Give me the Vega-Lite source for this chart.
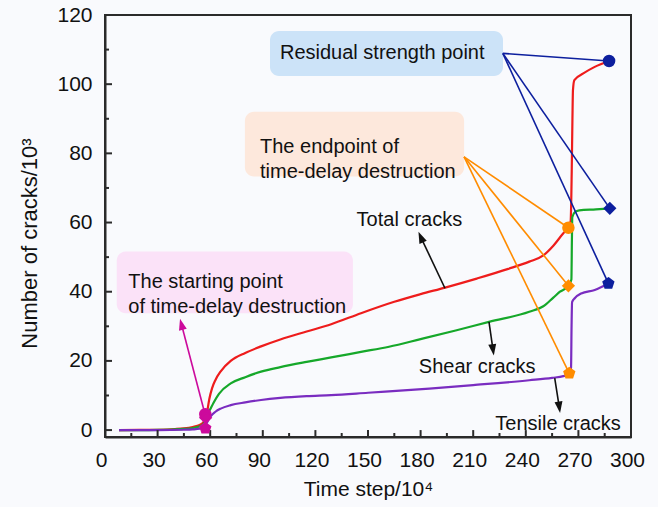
{
  "$schema": "https://vega.github.io/schema/vega-lite/v6.json",
  "width": 526,
  "height": 422,
  "autosize": {"type": "none"},
  "padding": {"left": 105, "top": 15, "right": 27, "bottom": 70},
  "background": "#f9fafd",
  "config": {
    "view": {"stroke": "#2b2b2b", "strokeWidth": 2, "fill": null},
    "font": "Liberation Sans",
    "text": {"font": "Liberation Sans"}
  },
  "datasets": {
    "curves": [
      {"s": "Total", "t": 8, "v": 0}, {"s": "Total", "t": 20, "v": 0.05}, {"s": "Total", "t": 30, "v": 0.1}, {"s": "Total", "t": 40, "v": 0.3}, {"s": "Total", "t": 45, "v": 0.5}, {"s": "Total", "t": 50, "v": 0.9}, {"s": "Total", "t": 54, "v": 1.5}, {"s": "Total", "t": 56, "v": 2.2}, {"s": "Total", "t": 57.5, "v": 3.5}, {"s": "Total", "t": 58.5, "v": 6}, {"s": "Total", "t": 59.5, "v": 9}, {"s": "Total", "t": 61, "v": 12}, {"s": "Total", "t": 63, "v": 14.5}, {"s": "Total", "t": 66, "v": 17}, {"s": "Total", "t": 71.7, "v": 20}, {"s": "Total", "t": 80, "v": 22.3}, {"s": "Total", "t": 89, "v": 24.2}, {"s": "Total", "t": 100, "v": 26.2}, {"s": "Total", "t": 115, "v": 28.5}, {"s": "Total", "t": 129, "v": 30.6}, {"s": "Total", "t": 146, "v": 33.8}, {"s": "Total", "t": 165, "v": 37.1}, {"s": "Total", "t": 180, "v": 39.3}, {"s": "Total", "t": 194, "v": 41.2}, {"s": "Total", "t": 212, "v": 43.8}, {"s": "Total", "t": 230, "v": 46.6}, {"s": "Total", "t": 242, "v": 48.7}, {"s": "Total", "t": 250, "v": 50.5}, {"s": "Total", "t": 255.7, "v": 53.3}, {"s": "Total", "t": 261.4, "v": 56.9}, {"s": "Total", "t": 264.3, "v": 58.5}, {"s": "Total", "t": 265.6, "v": 60.5}, {"s": "Total", "t": 266.2, "v": 75}, {"s": "Total", "t": 266.6, "v": 90}, {"s": "Total", "t": 266.9, "v": 98.3}, {"s": "Total", "t": 267.7, "v": 101.2}, {"s": "Total", "t": 272.8, "v": 103.1}, {"s": "Total", "t": 279.3, "v": 105}, {"s": "Total", "t": 287.5, "v": 106.7},
      {"s": "Shear", "t": 8, "v": 0}, {"s": "Shear", "t": 20, "v": 0}, {"s": "Shear", "t": 30, "v": 0.05}, {"s": "Shear", "t": 40, "v": 0.2}, {"s": "Shear", "t": 45, "v": 0.35}, {"s": "Shear", "t": 50, "v": 0.6}, {"s": "Shear", "t": 54, "v": 1.1}, {"s": "Shear", "t": 56, "v": 1.7}, {"s": "Shear", "t": 57.5, "v": 3}, {"s": "Shear", "t": 58.5, "v": 4.5}, {"s": "Shear", "t": 60, "v": 6}, {"s": "Shear", "t": 62, "v": 8}, {"s": "Shear", "t": 65, "v": 10.5}, {"s": "Shear", "t": 71.7, "v": 13.5}, {"s": "Shear", "t": 80, "v": 15.3}, {"s": "Shear", "t": 89, "v": 16.9}, {"s": "Shear", "t": 100, "v": 18.2}, {"s": "Shear", "t": 115, "v": 19.7}, {"s": "Shear", "t": 129, "v": 21}, {"s": "Shear", "t": 146, "v": 22.6}, {"s": "Shear", "t": 162, "v": 24.1}, {"s": "Shear", "t": 180, "v": 26.3}, {"s": "Shear", "t": 200, "v": 28.8}, {"s": "Shear", "t": 219, "v": 31.3}, {"s": "Shear", "t": 242, "v": 34.2}, {"s": "Shear", "t": 250, "v": 35.8}, {"s": "Shear", "t": 255.7, "v": 38.3}, {"s": "Shear", "t": 259.5, "v": 40}, {"s": "Shear", "t": 264.3, "v": 41.7}, {"s": "Shear", "t": 266, "v": 43.5}, {"s": "Shear", "t": 266.3, "v": 55}, {"s": "Shear", "t": 266.5, "v": 61.5}, {"s": "Shear", "t": 268, "v": 63}, {"s": "Shear", "t": 270.5, "v": 63.5}, {"s": "Shear", "t": 280, "v": 63.8}, {"s": "Shear", "t": 287.9, "v": 64.1},
      {"s": "Tensile", "t": 8, "v": 0}, {"s": "Tensile", "t": 30, "v": 0}, {"s": "Tensile", "t": 45, "v": 0.1}, {"s": "Tensile", "t": 50, "v": 0.2}, {"s": "Tensile", "t": 54, "v": 0.4}, {"s": "Tensile", "t": 56, "v": 0.8}, {"s": "Tensile", "t": 57.5, "v": 1.5}, {"s": "Tensile", "t": 58.5, "v": 2.5}, {"s": "Tensile", "t": 60, "v": 3.8}, {"s": "Tensile", "t": 63, "v": 5.3}, {"s": "Tensile", "t": 66, "v": 6.2}, {"s": "Tensile", "t": 71.7, "v": 7.2}, {"s": "Tensile", "t": 80, "v": 8}, {"s": "Tensile", "t": 89, "v": 8.7}, {"s": "Tensile", "t": 100, "v": 9.3}, {"s": "Tensile", "t": 115, "v": 9.8}, {"s": "Tensile", "t": 129, "v": 10.1}, {"s": "Tensile", "t": 150, "v": 10.8}, {"s": "Tensile", "t": 185, "v": 12}, {"s": "Tensile", "t": 210, "v": 13}, {"s": "Tensile", "t": 242, "v": 14.4}, {"s": "Tensile", "t": 255, "v": 15.1}, {"s": "Tensile", "t": 261.4, "v": 15.6}, {"s": "Tensile", "t": 264.8, "v": 16.4}, {"s": "Tensile", "t": 265.8, "v": 18}, {"s": "Tensile", "t": 266.1, "v": 30}, {"s": "Tensile", "t": 266.4, "v": 37}, {"s": "Tensile", "t": 267.9, "v": 38.1}, {"s": "Tensile", "t": 271.6, "v": 39.5}, {"s": "Tensile", "t": 279.3, "v": 40.5}, {"s": "Tensile", "t": 287.1, "v": 42.4}
    ],
    "boxes": [
      {"g": "residual", "x1": 94.1, "x2": 227, "y1": 102.4, "y2": 115.4},
      {"g": "endpoint", "x1": 79.8, "x2": 204.8, "y1": 73.3, "y2": 92},
      {"g": "start", "x1": 6.7, "x2": 141.4, "y1": 33.8, "y2": 51.6}
    ],
    "boxText": [
      {"t": 99.8, "v": 108.9, "label": "Residual strength point"},
      {"t": 88.4, "v": 81.7, "label": "The endpoint of\ntime-delay destruction"},
      {"t": 13.3, "v": 42.9, "label": "The starting point\nof time-delay destruction"}
    ],
    "curveText": [
      {"t": 173.6, "v": 60.7, "label": "Total cracks"},
      {"t": 212.3, "v": 18.3, "label": "Shear cracks"},
      {"t": 258.4, "v": 1.7, "label": "Tensile cracks"}
    ],
    "leaders": [
      {"g": "residual", "seg": "r1", "t": 226.9, "v": 108.9}, {"g": "residual", "seg": "r1", "t": 287.5, "v": 106.7},
      {"g": "residual", "seg": "r2", "t": 226.9, "v": 108.9}, {"g": "residual", "seg": "r2", "t": 287.9, "v": 64.1},
      {"g": "residual", "seg": "r3", "t": 226.9, "v": 108.9}, {"g": "residual", "seg": "r3", "t": 287.1, "v": 42.4},
      {"g": "endpoint", "seg": "e1", "t": 204.8, "v": 79}, {"g": "endpoint", "seg": "e1", "t": 264.3, "v": 58.5},
      {"g": "endpoint", "seg": "e2", "t": 204.8, "v": 79}, {"g": "endpoint", "seg": "e2", "t": 264.3, "v": 41.7},
      {"g": "endpoint", "seg": "e3", "t": 204.8, "v": 79}, {"g": "endpoint", "seg": "e3", "t": 264.8, "v": 16.4},
      {"g": "start", "seg": "s1", "t": 57.2, "v": 4.3}, {"g": "start", "seg": "s1", "t": 43.6, "v": 30.6}
    ],
    "arrows": [
      {"seg": "a1", "t": 193.9, "v": 41}, {"seg": "a1", "t": 180.1, "v": 55.8},
      {"seg": "a2", "t": 219, "v": 31.3}, {"seg": "a2", "t": 221.3, "v": 23.2},
      {"seg": "a3", "t": 256.5, "v": 15}, {"seg": "a3", "t": 259.1, "v": 6.6}
    ],
    "markers": [
      {"g": "residual", "k": "Total", "t": 287.5, "v": 106.7},
      {"g": "residual", "k": "Shear", "t": 287.9, "v": 64.1},
      {"g": "residual", "k": "Tensile", "t": 287.1, "v": 42.4},
      {"g": "endpoint", "k": "Total", "t": 264.3, "v": 58.5},
      {"g": "endpoint", "k": "Shear", "t": 264.3, "v": 41.7},
      {"g": "endpoint", "k": "Tensile", "t": 264.8, "v": 16.4},
      {"g": "start", "k": "Total", "t": 57.2, "v": 4.6},
      {"g": "start", "k": "Shear", "t": 57.4, "v": 3.6},
      {"g": "start", "k": "Tensile", "t": 57.2, "v": 0.5}
    ],
    "headDown": [{"t": 221.3, "v": 23.2}, {"t": 259.1, "v": 6.6}],
    "headTotal": [{"t": 180.1, "v": 55.8}],
    "headStart": [{"t": 43.6, "v": 30.6}],
    "xMajor": [{"t": 30}, {"t": 60}, {"t": 90}, {"t": 120}, {"t": 150}, {"t": 180}, {"t": 210}, {"t": 240}, {"t": 270}],
    "xMinor": [{"t": 15}, {"t": 45}, {"t": 75}, {"t": 105}, {"t": 135}, {"t": 165}, {"t": 195}, {"t": 225}, {"t": 255}, {"t": 285}],
    "yMajor": [{"v": 0}, {"v": 20}, {"v": 40}, {"v": 60}, {"v": 80}, {"v": 100}],
    "yMinor": [{"v": 10}, {"v": 30}, {"v": 50}, {"v": 70}, {"v": 90}, {"v": 110}]
  },
  "layer": [
    {
      "data": {"name": "curves"},
      "mark": {"type": "line", "strokeWidth": 2.2, "interpolate": "monotone"},
      "encoding": {
        "x": {"field": "t", "type": "quantitative", "scale": {"domain": [0, 300], "nice": false, "zero": false},
          "axis": {"orient": "bottom", "values": [0, 30, 60, 90, 120, 150, 180, 210, 240, 270, 300], "ticks": false, "domain": true, "domainColor": "#2b2b2b", "domainWidth": 2, "grid": false, "labelFontSize": 21, "labelColor": "#111", "labelPadding": 12, "labelOffset": -4, "labelFlush": false, "labelOverlap": false, "labelFont": "Liberation Sans", "title": "Time step/10⁴", "titleFontSize": 21, "titleFontWeight": "normal", "titleColor": "#111", "titlePadding": 8, "titleFont": "Liberation Sans"}},
        "y": {"field": "v", "type": "quantitative", "scale": {"domain": [-2, 120], "nice": false, "zero": false},
          "axis": {"orient": "left", "values": [0, 20, 40, 60, 80, 100, 120], "ticks": false, "domain": true, "domainColor": "#2b2b2b", "domainWidth": 2, "grid": false, "labelFontSize": 21, "labelColor": "#111", "labelPadding": 13, "labelFlush": false, "labelOverlap": false, "labelFont": "Liberation Sans", "title": "Number of cracks/10³", "titleFontSize": 22, "titleFontWeight": "normal", "titleColor": "#111", "titlePadding": 15, "titleY": 228, "titleFont": "Liberation Sans"}},
        "color": {"field": "s", "type": "nominal", "scale": {"domain": ["Total", "Shear", "Tensile"], "range": ["#ee1c1c", "#16a82a", "#7a2cc0"]}, "legend": null},
        "detail": {"field": "s"}
      }
    },
    {
      "data": {"name": "boxes"},
      "mark": {"type": "rect", "cornerRadius": 9},
      "encoding": {
        "x": {"field": "x1", "type": "quantitative"},
        "x2": {"field": "x2"},
        "y": {"field": "y1", "type": "quantitative"},
        "y2": {"field": "y2"},
        "fill": {"field": "g", "type": "nominal", "scale": {"domain": ["residual", "endpoint", "start"], "range": ["#cce3f8", "#fde8dc", "#fbe2f8"]}, "legend": null}
      }
    },
    {
      "data": {"name": "xMajor"},
      "mark": {"type": "rule", "strokeWidth": 2, "color": "#2b2b2b"},
      "encoding": {
        "x": {"field": "t", "type": "quantitative"},
        "y": {"datum": -2, "type": "quantitative"},
        "y2": {"datum": 0}
      }
    },
    {
      "data": {"name": "xMinor"},
      "mark": {"type": "rule", "strokeWidth": 2, "color": "#2b2b2b"},
      "encoding": {
        "x": {"field": "t", "type": "quantitative"},
        "y": {"datum": -2, "type": "quantitative"},
        "y2": {"datum": -0.85}
      }
    },
    {
      "data": {"name": "yMajor"},
      "mark": {"type": "rule", "strokeWidth": 2, "color": "#2b2b2b"},
      "encoding": {
        "y": {"field": "v", "type": "quantitative"},
        "x": {"datum": 0, "type": "quantitative"},
        "x2": {"datum": 4}
      }
    },
    {
      "data": {"name": "yMinor"},
      "mark": {"type": "rule", "strokeWidth": 2, "color": "#2b2b2b"},
      "encoding": {
        "y": {"field": "v", "type": "quantitative"},
        "x": {"datum": 0, "type": "quantitative"},
        "x2": {"datum": 2.3}
      }
    },
    {
      "data": {"name": "leaders"},
      "mark": {"type": "line", "strokeWidth": 1.6},
      "encoding": {
        "x": {"field": "t", "type": "quantitative"},
        "y": {"field": "v", "type": "quantitative"},
        "stroke": {"field": "g", "type": "nominal", "scale": {"domain": ["residual", "endpoint", "start"], "range": ["#0d1f9e", "#ff8c00", "#cc0a9c"]}, "legend": null},
        "detail": {"field": "seg"}
      }
    },
    {
      "data": {"name": "arrows"},
      "mark": {"type": "line", "strokeWidth": 1.6, "color": "#111"},
      "encoding": {
        "x": {"field": "t", "type": "quantitative"},
        "y": {"field": "v", "type": "quantitative"},
        "detail": {"field": "seg"}
      }
    },
    {
      "data": {"name": "markers"},
      "mark": {"type": "point", "filled": true, "opacity": 1, "size": 110},
      "encoding": {
        "x": {"field": "t", "type": "quantitative"},
        "y": {"field": "v", "type": "quantitative"},
        "stroke": {"field": "g", "type": "nominal", "scale": {"domain": ["residual", "endpoint", "start"], "range": ["#0d1f9e", "#ff8c00", "#cc0a9c"]}, "legend": null},
        "fill": {"field": "g", "type": "nominal", "scale": {"domain": ["residual", "endpoint", "start"], "range": ["#0d1f9e", "#ff8c00", "#cc0a9c"]}, "legend": null},
        "shape": {"field": "k", "type": "nominal", "scale": {"domain": ["Total", "Shear", "Tensile"], "range": ["circle", "diamond", "M0,-1L0.951,-0.309L0.588,0.809L-0.588,0.809L-0.951,-0.309Z"]}, "legend": null}
      }
    },
    {
      "data": {"name": "headDown"},
      "mark": {"type": "point", "filled": true, "opacity": 1, "color": "#111", "size": 130, "angle": 172, "shape": "M0,-1L0.7,1L-0.7,1Z"},
      "encoding": {
        "x": {"field": "t", "type": "quantitative"},
        "y": {"field": "v", "type": "quantitative"}
      }
    },
    {
      "data": {"name": "headTotal"},
      "mark": {"type": "point", "filled": true, "opacity": 1, "color": "#111", "size": 130, "angle": 336, "shape": "M0,-1L0.7,1L-0.7,1Z"},
      "encoding": {
        "x": {"field": "t", "type": "quantitative"},
        "y": {"field": "v", "type": "quantitative"}
      }
    },
    {
      "data": {"name": "headStart"},
      "mark": {"type": "point", "filled": true, "opacity": 1, "color": "#cc0a9c", "size": 130, "angle": 345.5, "shape": "M0,-1L0.7,1L-0.7,1Z"},
      "encoding": {
        "x": {"field": "t", "type": "quantitative"},
        "y": {"field": "v", "type": "quantitative"}
      }
    },
    {
      "data": {"name": "boxText"},
      "mark": {"type": "text", "align": "left", "baseline": "middle", "fontSize": 20, "lineBreak": "\n", "lineHeight": 25, "color": "#111", "font": "Liberation Sans"},
      "encoding": {
        "x": {"field": "t", "type": "quantitative"},
        "y": {"field": "v", "type": "quantitative"},
        "text": {"field": "label"}
      }
    },
    {
      "data": {"name": "curveText"},
      "mark": {"type": "text", "align": "center", "baseline": "middle", "fontSize": 20, "color": "#111", "font": "Liberation Sans"},
      "encoding": {
        "x": {"field": "t", "type": "quantitative"},
        "y": {"field": "v", "type": "quantitative"},
        "text": {"field": "label"}
      }
    }
  ],
  "resolve": {"scale": {"fill": "independent", "stroke": "independent", "color": "independent", "shape": "independent"}}
}
